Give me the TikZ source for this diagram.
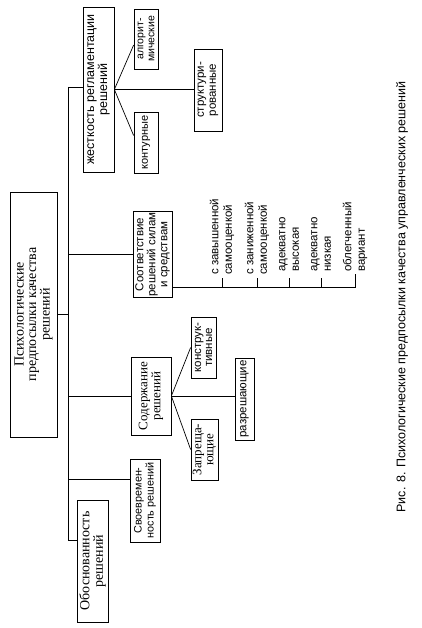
\documentclass[tikz,border=0pt]{standalone}
\usepackage{fontspec}
\setmainfont{Liberation Serif}
\newfontfamily\sansf{Liberation Sans}
\begin{document}
\begin{tikzpicture}[x=1pt,y=-1pt,
  box/.style={draw, line width=0.7pt, rotate=90, align=center, inner sep=1pt},
  serifbox/.style={box, font=\fontsize{12.5}{12.5}\selectfont},
  sansbox/.style={box, font=\sansf\fontsize{11}{11}\selectfont},
  lab/.style={rotate=90, anchor=west, align=left, inner sep=0pt, font=\sansf\fontsize{11.5}{13.5}\selectfont},
  conn/.style={line width=0.7pt}]
\useasboundingbox (0,0) rectangle (421,628);
% boxes
\node[serifbox, minimum width=245pt, minimum height=47pt, font=\fontsize{14}{12.5}\selectfont] (main) at (33.5,314.5) {Психологические\\предпосылки качества\\решений};
\node[sansbox, minimum width=165pt, minimum height=31pt, font=\sansf\fontsize{12.5}{13}\selectfont] (zhest) at (98.5,89.5) {жесткость регламентации\\решений};
\node[sansbox, minimum width=60pt, minimum height=24pt, font=\sansf\fontsize{10.5}{11}\selectfont] (algo) at (146,39) {алгорит-\\мические};
\node[sansbox, minimum width=61pt, minimum height=24pt] (kontur) at (146,142.5) {контурные};
\node[sansbox, minimum width=82pt, minimum height=28pt, font=\sansf\fontsize{11.5}{12}\selectfont] (struct) at (208,90) {структури-\\рованные};
\node[sansbox, minimum width=83pt, minimum height=39pt, font=\sansf\fontsize{11.5}{12}\selectfont] (sootv) at (152.5,254.5) {Соответствие\\решений силам\\и средствам};
\node[serifbox, minimum width=78pt, minimum height=40pt, font=\fontsize{13}{13}\selectfont] (soderzh) at (151,396) {Содержание\\решений};
\node[sansbox, minimum width=61pt, minimum height=25pt, font=\sansf\fontsize{11.5}{11}\selectfont] (konstr) at (203.5,347.5) {конструк-\\тивные};
\node[serifbox, minimum width=61pt, minimum height=27pt, font=\fontsize{13}{12}\selectfont] (zapr) at (204.5,449.5) {Запреща-\\ющие};
\node[sansbox, minimum width=82pt, minimum height=19pt, font=\sansf\fontsize{11.5}{12}\selectfont] (razr) at (244.5,399) {разрешающие};
\node[sansbox, minimum width=83pt, minimum height=30pt, font=\sansf\fontsize{10.8}{12}\selectfont] (svoevr) at (145,500.5) {Своевремен-\\ность решений};
\node[serifbox, minimum width=122pt, minimum height=31pt, font=\fontsize{14}{13.5}\selectfont] (obosn) at (92.5,561) {Обоснованность\\решений};
% labels
\node[lab] (l1) at (222,275) {с завышенной\\самооценкой};
\node[lab] (l2) at (257,275) {с заниженной\\самооценкой};
\node[lab] (l3) at (289,272) {адекватно\\высокая};
\node[lab] (l4) at (321,272) {адекватно\\низкая};
\node[lab] (l5) at (355,272) {облегченный\\вариант};
% caption
\node[rotate=90, inner sep=0pt, font=\sansf\fontsize{12.5}{13}\selectfont] (cap) at (402,297) {Рис. 8. Психологические предпосылки качества управленческих решений};
% trunk
\coordinate (ttop) at (68,87);
\coordinate (tbot) at (68,540);
\coordinate (svc) at (68,479);
\draw[conn] (ttop) -- (tbot);
\draw[conn] (main.south) -- (main.south -| ttop);
\draw[conn] (ttop) -- (ttop -| zhest.north);
\draw[conn] (ttop |- sootv.north) -- (sootv.north);
\draw[conn] (ttop |- soderzh.north) -- (soderzh.north);
\draw[conn] (svc) -- (svc -| svoevr.north);
\draw[conn] (tbot) -- (tbot -| obosn.north);
% fan from zhest
\draw[conn] (zhest.south) -- ([yshift=-6pt]algo.north);
\draw[conn] (zhest.south) -- ([yshift=7pt]kontur.north);
\draw[conn] (zhest.south) -- (zhest.south -| struct.north);
% fan from soderzh
\draw[conn] (soderzh.south) -- (konstr.north);
\draw[conn] (soderzh.south) -- (zapr.north);
\draw[conn] (soderzh.south) -- (soderzh.south -| razr.north);
% scale from sootv
\coordinate (sb) at ([yshift=10pt]sootv.south west);
\coordinate (send) at (sb -| l5.west);
\draw[conn] (sb) -- (send) -- ([yshift=-2pt]l5.west);
\foreach \l in {l1,l2,l3,l4} \draw[conn] (sb -| \l.west) -- ++(0,-10);
\end{tikzpicture}
\end{document}
